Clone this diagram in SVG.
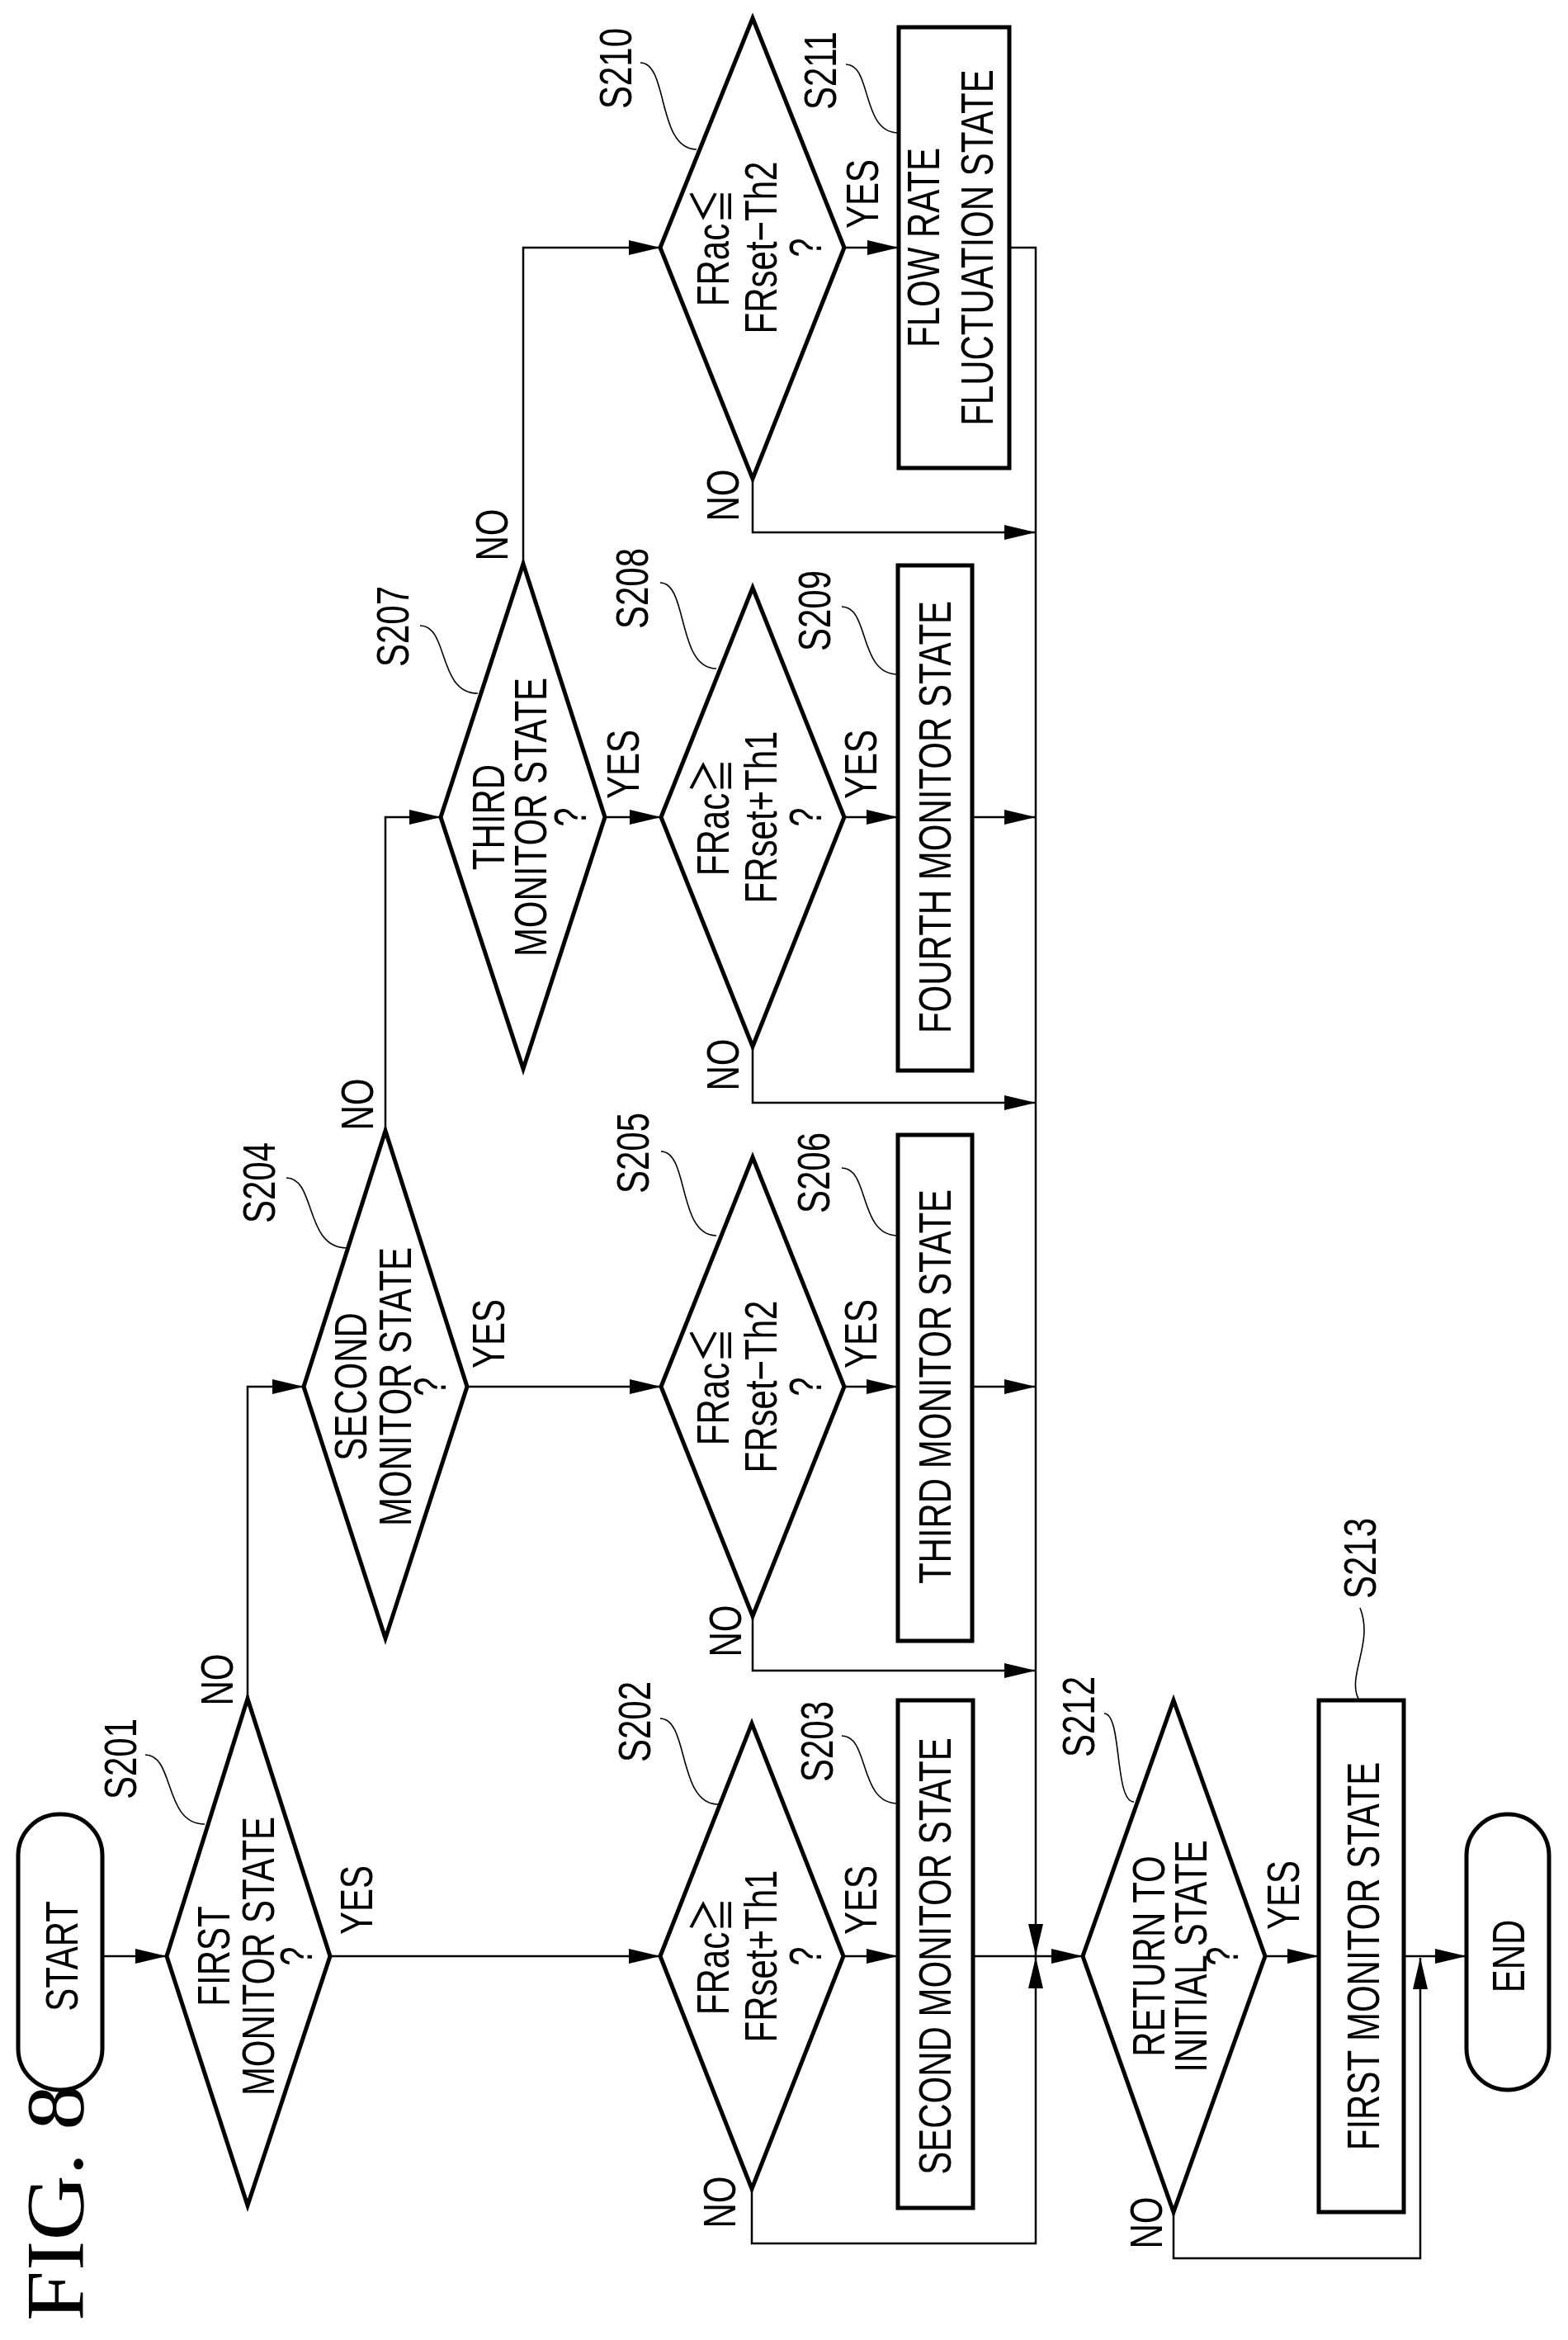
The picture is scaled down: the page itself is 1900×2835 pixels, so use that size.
<svg xmlns="http://www.w3.org/2000/svg" width="1900" height="2835" viewBox="0 0 1900 2835">
<style>
.t{font-family:"Liberation Sans","Noto Sans CJK JP",sans-serif;font-size:56px;fill:#000}
.s{fill:#fff;stroke:#000;stroke-width:5}
.c{fill:none;stroke:#000;stroke-width:2.5}
.l{fill:none;stroke:#000;stroke-width:1.6}
</style>
<defs>
<marker id="a" markerUnits="userSpaceOnUse" markerWidth="40" markerHeight="20" refX="38" refY="9" orient="auto"><path d="M0,0 L38,9 L0,18 Z" fill="#000"/></marker>
</defs>
<rect width="1900" height="2835" fill="#fff"/>
<text font-family="Liberation Serif,serif" font-size="100" transform="translate(100,2812) rotate(-90)" textLength="286" lengthAdjust="spacingAndGlyphs">FIG. 8</text>

<g id="connectors">
<path class="c" d="M124,2370 H202" marker-end="url(#a)"/>
<path class="c" d="M400,2370 H800" marker-end="url(#a)"/>
<path class="c" d="M1022,2370 H1088" marker-end="url(#a)"/>
<path class="c" d="M1179,2370 H1312" marker-end="url(#a)"/>
<path class="c" d="M911,2652 V2718 H1255 V2371" marker-end="url(#a)"/>
<path class="c" d="M1223,300 H1255 V2369" marker-end="url(#a)"/>
<path class="c" d="M1533,2370 H1598" marker-end="url(#a)"/>
<path class="c" d="M1701,2370 H1777" marker-end="url(#a)"/>
<path class="c" d="M1422,2680 V2736 H1721 V2372" marker-end="url(#a)"/>
<path class="c" d="M300,2058 V1680 H368" marker-end="url(#a)"/>
<path class="c" d="M566,1680 H801" marker-end="url(#a)"/>
<path class="c" d="M1023,1680 H1088" marker-end="url(#a)"/>
<path class="c" d="M1178,1680 H1255" marker-end="url(#a)"/>
<path class="c" d="M912,1958 V2024 H1255" marker-end="url(#a)"/>
<path class="c" d="M467,1370 V990 H534" marker-end="url(#a)"/>
<path class="c" d="M733,990 H801" marker-end="url(#a)"/>
<path class="c" d="M1023,990 H1088" marker-end="url(#a)"/>
<path class="c" d="M1178,990 H1255" marker-end="url(#a)"/>
<path class="c" d="M912,1268 V1336 H1255" marker-end="url(#a)"/>
<path class="c" d="M634,683 V300 H800" marker-end="url(#a)"/>
<path class="c" d="M1023,300 H1089" marker-end="url(#a)"/>
<path class="c" d="M912,580 V645 H1255" marker-end="url(#a)"/>
<text class="t" transform="translate(282,2035) rotate(-90) scale(0.75,1)" text-anchor="middle">NO</text>
<text class="t" transform="translate(451,2344) rotate(-90) scale(0.75,1)">YES</text>
<text class="t" transform="translate(891,2668) rotate(-90) scale(0.75,1)" text-anchor="middle">NO</text>
<text class="t" transform="translate(1062,2344) rotate(-90) scale(0.75,1)">YES</text>
<text class="t" transform="translate(452,1338) rotate(-90) scale(0.75,1)" text-anchor="middle">NO</text>
<text class="t" transform="translate(611,1658) rotate(-90) scale(0.75,1)">YES</text>
<text class="t" transform="translate(898,1976) rotate(-90) scale(0.75,1)" text-anchor="middle">NO</text>
<text class="t" transform="translate(1062,1658) rotate(-90) scale(0.75,1)">YES</text>
<text class="t" transform="translate(615,648) rotate(-90) scale(0.75,1)" text-anchor="middle">NO</text>
<text class="t" transform="translate(774,968) rotate(-90) scale(0.75,1)">YES</text>
<text class="t" transform="translate(895,1290) rotate(-90) scale(0.75,1)" text-anchor="middle">NO</text>
<text class="t" transform="translate(1062,968) rotate(-90) scale(0.75,1)">YES</text>
<text class="t" transform="translate(895,600) rotate(-90) scale(0.75,1)" text-anchor="middle">NO</text>
<text class="t" transform="translate(1064,277) rotate(-90) scale(0.75,1)">YES</text>
<text class="t" transform="translate(1408,2693) rotate(-90) scale(0.75,1)" text-anchor="middle">NO</text>
<text class="t" transform="translate(1574,2338) rotate(-90) scale(0.75,1)">YES</text>
</g>

<g id="START">
<rect class="s" x="22" y="2198" width="102" height="334" rx="50"/>
<text class="t" transform="translate(94,2370) rotate(-90) scale(0.75,1)" text-anchor="middle">START</text>
</g>
<g id="S201">
<path class="s" d="M202,2370 L300,2058 L400,2370 L300,2672 Z"/>
<text class="t" transform="translate(278,2370) rotate(-90) scale(0.75,1)" text-anchor="middle">FIRST</text>
<text class="t" transform="translate(332,2370) rotate(-90) scale(0.75,1)" text-anchor="middle">MONITOR STATE</text>
<text class="t" transform="translate(378,2370) rotate(-90) scale(0.75,1)" text-anchor="middle">?</text>
<text class="t" transform="translate(165,2180) rotate(-90) scale(0.75,1)">S201</text>
<path class="l" d="M176,2126 C212,2126 198,2210 248,2210"/>
</g>
<g id="S202">
<path class="s" d="M800,2370 L911,2088 L1022,2370 L911,2652 Z"/>
<text class="t" transform="translate(883,2370) rotate(-90) scale(0.75,1)" text-anchor="middle">FRac≧</text>
<text class="t" transform="translate(941,2370) rotate(-90) scale(0.75,1)" text-anchor="middle">FRset+Th1</text>
<text class="t" transform="translate(995,2370) rotate(-90) scale(0.75,1)" text-anchor="middle">?</text>
<text class="t" transform="translate(788,2135) rotate(-90) scale(0.75,1)">S202</text>
<path class="l" d="M800,2082 C835,2082 821,2186 870,2186"/>
</g>
<g id="S203">
<rect class="s" x="1088" y="2060" width="91" height="615"/>
<text class="t" transform="translate(1152,2370) rotate(-90) scale(0.75,1)" text-anchor="middle">SECOND MONITOR STATE</text>
<text class="t" transform="translate(1009,2159) rotate(-90) scale(0.75,1)">S203</text>
<path class="l" d="M1020,2103 C1054,2103 1040,2185 1088,2185"/>
</g>
<g id="S204">
<path class="s" d="M368,1680 L467,1370 L566,1680 L467,1985 Z"/>
<text class="t" transform="translate(444,1680) rotate(-90) scale(0.75,1)" text-anchor="middle">SECOND</text>
<text class="t" transform="translate(498,1680) rotate(-90) scale(0.75,1)" text-anchor="middle">MONITOR STATE</text>
<text class="t" transform="translate(540,1680) rotate(-90) scale(0.75,1)" text-anchor="middle">?</text>
<text class="t" transform="translate(333,1482) rotate(-90) scale(0.75,1)">S204</text>
<path class="l" d="M347,1427 C383,1427 369,1512 420,1512"/>
</g>
<g id="S205">
<path class="s" d="M801,1680 L912,1402 L1023,1680 L912,1958 Z"/>
<text class="t" transform="translate(883,1680) rotate(-90) scale(0.75,1)" text-anchor="middle">FRac≦</text>
<text class="t" transform="translate(941,1680) rotate(-90) scale(0.75,1)" text-anchor="middle">FRset−Th2</text>
<text class="t" transform="translate(995,1680) rotate(-90) scale(0.75,1)" text-anchor="middle">?</text>
<text class="t" transform="translate(786,1446) rotate(-90) scale(0.75,1)">S205</text>
<path class="l" d="M801,1395 C835,1395 821,1497 868,1497"/>
</g>
<g id="S206">
<rect class="s" x="1088" y="1375" width="90" height="613"/>
<text class="t" transform="translate(1152,1680) rotate(-90) scale(0.75,1)" text-anchor="middle">THIRD MONITOR STATE</text>
<text class="t" transform="translate(1005,1470) rotate(-90) scale(0.75,1)">S206</text>
<path class="l" d="M1020,1415 C1054,1415 1040,1497 1088,1497"/>
</g>
<g id="S207">
<path class="s" d="M534,990 L634,683 L733,990 L634,1295 Z"/>
<text class="t" transform="translate(611,990) rotate(-90) scale(0.75,1)" text-anchor="middle">THIRD</text>
<text class="t" transform="translate(662,990) rotate(-90) scale(0.75,1)" text-anchor="middle">MONITOR STATE</text>
<text class="t" transform="translate(710,990) rotate(-90) scale(0.75,1)" text-anchor="middle">?</text>
<text class="t" transform="translate(495,808) rotate(-90) scale(0.75,1)">S207</text>
<path class="l" d="M509,758 C544,758 530,840 579,840"/>
</g>
<g id="S208">
<path class="s" d="M801,990 L912,712 L1023,990 L912,1268 Z"/>
<text class="t" transform="translate(883,990) rotate(-90) scale(0.75,1)" text-anchor="middle">FRac≧</text>
<text class="t" transform="translate(941,990) rotate(-90) scale(0.75,1)" text-anchor="middle">FRset+Th1</text>
<text class="t" transform="translate(995,990) rotate(-90) scale(0.75,1)" text-anchor="middle">?</text>
<text class="t" transform="translate(785,762) rotate(-90) scale(0.75,1)">S208</text>
<path class="l" d="M800,706 C834,706 820,810 868,810"/>
</g>
<g id="S209">
<rect class="s" x="1088" y="685" width="90" height="612"/>
<text class="t" transform="translate(1152,990) rotate(-90) scale(0.75,1)" text-anchor="middle">FOURTH MONITOR STATE</text>
<text class="t" transform="translate(1006,789) rotate(-90) scale(0.75,1)">S209</text>
<path class="l" d="M1020,735 C1054,735 1040,817 1088,817"/>
</g>
<g id="S210">
<path class="s" d="M800,300 L912,22 L1023,300 L912,580 Z"/>
<text class="t" transform="translate(883,300) rotate(-90) scale(0.75,1)" text-anchor="middle">FRac≦</text>
<text class="t" transform="translate(941,300) rotate(-90) scale(0.75,1)" text-anchor="middle">FRset−Th2</text>
<text class="t" transform="translate(995,300) rotate(-90) scale(0.75,1)" text-anchor="middle">?</text>
<text class="t" transform="translate(765,132) rotate(-90) scale(0.75,1)">S210</text>
<path class="l" d="M776,76 C810,76 796,181 844,181"/>
</g>
<g id="S211">
<rect class="s" x="1089" y="33" width="134" height="534"/>
<text class="t" transform="translate(1138,300) rotate(-90) scale(0.75,1)" text-anchor="middle">FLOW RATE</text>
<text class="t" transform="translate(1203,300) rotate(-90) scale(0.75,1)" text-anchor="middle">FLUCTUATION STATE</text>
<text class="t" transform="translate(1013,133) rotate(-90) scale(0.75,1)">S211</text>
<path class="l" d="M1025,78 C1057,78 1043,161 1089,161"/>
</g>
<g id="S212">
<path class="s" d="M1312,2370 L1422,2060 L1533,2370 L1422,2680 Z"/>
<text class="t" transform="translate(1411,2370) rotate(-90) scale(0.75,1)" text-anchor="middle">RETURN TO</text>
<text class="t" transform="translate(1462,2370) rotate(-90) scale(0.75,1)" text-anchor="middle">INITIAL STATE</text>
<text class="t" transform="translate(1500,2370) rotate(-90) scale(0.75,1)" text-anchor="middle">?</text>
<text class="t" transform="translate(1326,2129) rotate(-90) scale(0.75,1)">S212</text>
<path class="l" d="M1338,2076 C1360,2076 1350,2183 1374,2183"/>
</g>
<g id="S213">
<rect class="s" x="1598" y="2060" width="103" height="620"/>
<text class="t" transform="translate(1671,2370) rotate(-90) scale(0.75,1)" text-anchor="middle">FIRST MONITOR STATE</text>
<text class="t" transform="translate(1667,1937) rotate(-90) scale(0.75,1)">S213</text>
<path class="l" d="M1648,1948 C1665,1990 1632,2030 1646,2058"/>
</g>
<g id="END">
<rect class="s" x="1777" y="2198" width="100" height="334" rx="50"/>
<text class="t" transform="translate(1847,2370) rotate(-90) scale(0.75,1)" text-anchor="middle">END</text>
</g>
</svg>
